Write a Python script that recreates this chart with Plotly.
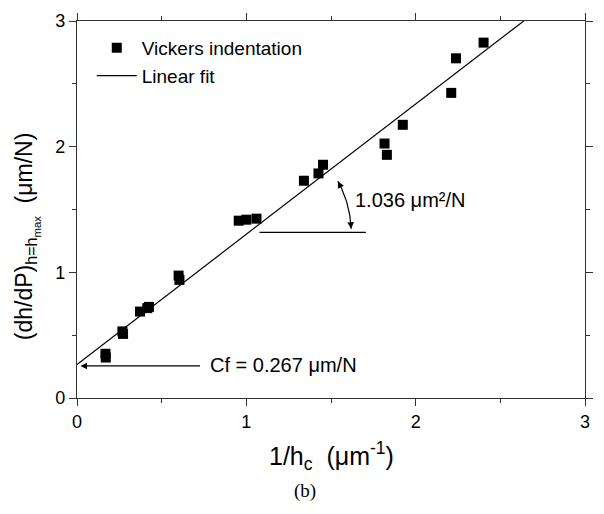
import numpy as np
import plotly.graph_objects as go

# ---- data ----
inv_hc = [0.168, 0.170, 0.268, 0.272, 0.372, 0.415, 0.425, 0.600, 0.605,
          0.955, 1.000, 1.060, 1.340, 1.426, 1.453, 1.816, 1.830, 1.924,
          2.210, 2.238, 2.401]
dhdp = [0.352, 0.322, 0.530, 0.510, 0.688, 0.715, 0.725, 0.974, 0.940,
        1.411, 1.419, 1.427, 1.729, 1.787, 1.856, 2.025, 1.935, 2.174,
        2.428, 2.703, 2.828]
fit_intercept = 0.267
fit_slope = 1.036
fit_x = [0.0, (3.0 - fit_intercept) / fit_slope]
fit_y = [fit_intercept + fit_slope * v for v in fit_x]

tick_vals = [0, 1, 2, 3]
tick_text = ["0", "1", "2", "3"]

FONT = "Liberation Sans, Arial, sans-serif"
W, H = 604, 514
ML, MR, MT, MB = 77, 11, 20, 116
pw, ph = W - ML - MR, H - MT - MB
sx, sy = pw / 3.0, ph / 3.0  # px per unit

fig = go.Figure()
fig.add_trace(go.Scatter(x=inv_hc, y=dhdp, mode="markers", name="Vickers indentation",
                         marker=dict(symbol="square", size=10, color="black")))
fig.add_trace(go.Scatter(x=fit_x, y=fit_y, mode="lines", name="Linear fit",
                         line=dict(color="black", width=1.2)))

# slope marker: horizontal line + arc with arrows
hy = 1.318
hx0, hx1 = 1.078, 1.706
fig.add_shape(type="line", x0=hx0, x1=hx1, y0=hy, y1=hy, xref="x", yref="y",
              line=dict(color="black", width=1.2))
cx = (hy - fit_intercept) / fit_slope
r = 104.0
th = np.radians(np.linspace(2.0, 29.5, 40))
arc_x = cx + r * np.cos(th) / sx
arc_y = hy + r * np.sin(th) / sy
fig.add_trace(go.Scatter(x=arc_x, y=arc_y, mode="lines", showlegend=False, hoverinfo="skip",
                         line=dict(color="black", width=1.2)))
for i_head, i_tail in [(0, 6), (-1, -7)]:
    fig.add_annotation(x=arc_x[i_head], y=arc_y[i_head], ax=arc_x[i_tail], ay=arc_y[i_tail],
                       xref="x", yref="y", axref="x", ayref="y", text="", showarrow=True,
                       arrowhead=2, arrowsize=1.1, arrowwidth=1.2, arrowcolor="black", standoff=0)
fig.add_annotation(x=1.632, y=1.578, xref="x", yref="y", text="1.036 μm²/N", showarrow=False,
                   xanchor="left", yanchor="middle", font=dict(family=FONT, size=20, color="black"))

# Cf arrow
fig.add_annotation(x=0.02, y=0.255, ax=0.735, ay=0.255, xref="x", yref="y", axref="x", ayref="y",
                   text="", showarrow=True, arrowhead=2, arrowsize=1.1, arrowwidth=1.2,
                   arrowcolor="black", standoff=0)
fig.add_annotation(x=0.772, y=0.262, xref="x", yref="y", text="Cf = 0.267 μm/N", showarrow=False,
                   xanchor="left", yanchor="middle", font=dict(family=FONT, size=20, color="black"))

# axis titles as annotations
fig.add_annotation(x=(26 - ML) / pw, y=(398 - 236) / ph, xref="paper", yref="paper",
                   text="(dh/dP)<sub>h=h<sub>max</sub></sub>  (μm/N)", textangle=-90,
                   showarrow=False, font=dict(family=FONT, size=23, color="black"),
                   xanchor="center", yanchor="middle")
fig.add_annotation(x=(335 - ML) / pw, y=-(456 - 398) / ph, xref="paper", yref="paper",
                   text="1/h<sub>c</sub>  (μm<sup>-1</sup>)", showarrow=False,
                   font=dict(family=FONT, size=25, color="black"), xanchor="center", yanchor="middle")
fig.add_annotation(x=(309 - ML) / pw, y=-(491 - 398) / ph, xref="paper", yref="paper",
                   text="(b)", showarrow=False,
                   font=dict(family="Liberation Serif, Times New Roman, serif", size=19, color="black"),
                   xanchor="center", yanchor="middle")

axis_common = dict(range=[0, 3], tickvals=tick_vals, ticktext=tick_text, showgrid=False,
                   zeroline=False, showline=True, linecolor="#333", linewidth=1.3,
                   tickcolor="#333", tickwidth=1.3, ticklen=7,
                   tickfont=dict(family=FONT, size=18, color="black"))
fig.update_layout(
    width=W, height=H,
    margin=dict(l=ML, r=MR, t=MT, b=MB),
    paper_bgcolor="white", plot_bgcolor="white",
    showlegend=True,
    legend=dict(x=(92 - ML) / pw, y=1 - (28 - MT) / ph, xanchor="left", yanchor="top",
                bgcolor="rgba(0,0,0,0)", font=dict(family=FONT, size=19, color="black"),
                tracegroupgap=0, itemwidth=40),
    xaxis=dict(**axis_common, ticks="outside", mirror="allticks",
               minor=dict(dtick=0.5, ticks="outside", ticklen=4, tickcolor="#333")),
    yaxis=dict(**axis_common, ticks="outside", mirror="allticks",
               minor=dict(dtick=0.5, ticks="outside", ticklen=4, tickcolor="#333")),
)
fig.write_html("out.html")
